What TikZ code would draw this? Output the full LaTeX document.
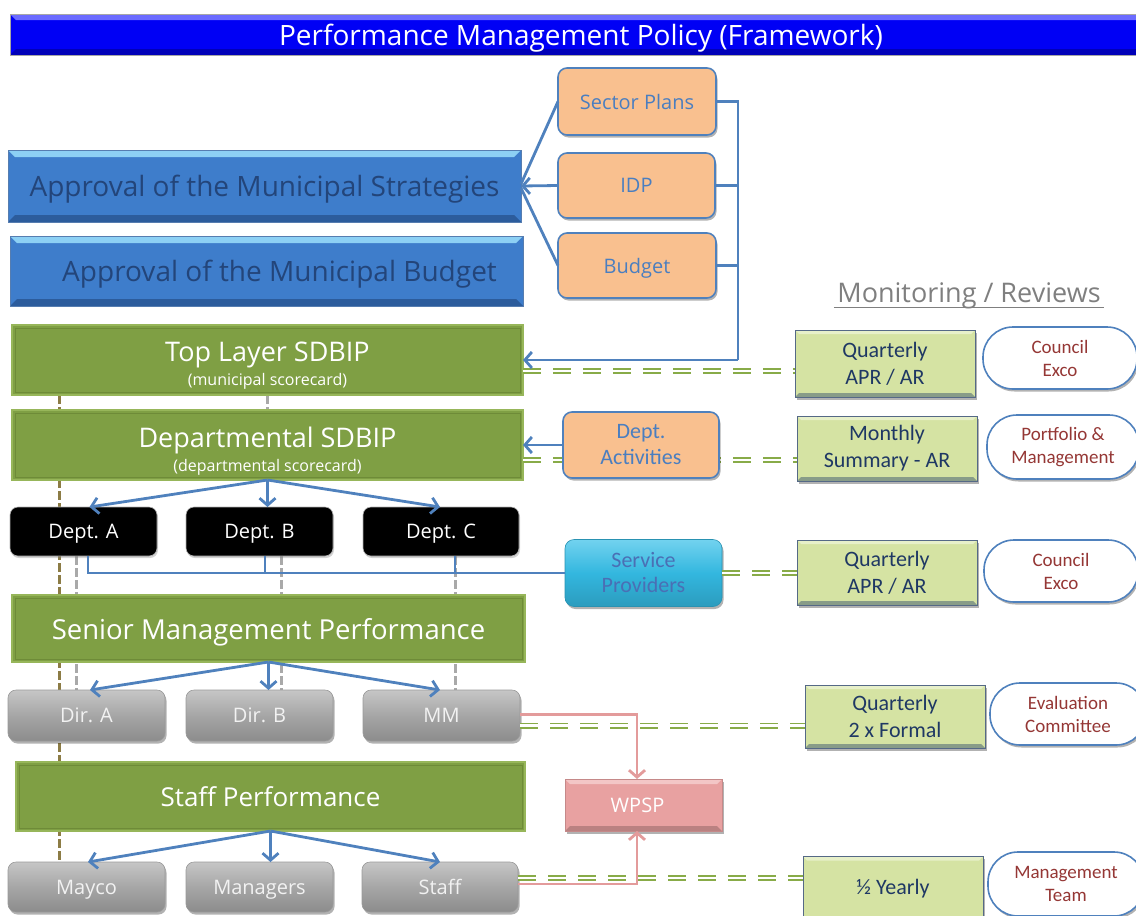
\documentclass[tikz,border=0pt]{standalone}
\usepackage{fontspec}
\setmainfont{Open Sans}
\newfontfamily\calfont{Carlito}
\usetikzlibrary{arrows.meta,shadows,calc}

\definecolor{titleblue}{HTML}{0000F5}
\definecolor{titlelight}{HTML}{6B6BFF}
\definecolor{titledark}{HTML}{0000B8}
\definecolor{apfill}{HTML}{3E7DCB}
\definecolor{aplight}{HTML}{8DD0F4}
\definecolor{apdark}{HTML}{2C5C9C}
\definecolor{aptext}{HTML}{23457A}
\definecolor{orfill}{HTML}{F9C08F}
\definecolor{orborder}{HTML}{4F81BD}
\definecolor{ortext}{HTML}{4A7EC0}
\definecolor{grfill}{HTML}{7F9F44}
\definecolor{grborder}{HTML}{97B65A}
\definecolor{grline}{HTML}{6E8B38}
\definecolor{gyfill}{HTML}{A6A6A6}
\definecolor{gylight}{HTML}{C6C6C6}
\definecolor{gydark}{HTML}{8C8C8C}
\definecolor{cyfill}{HTML}{33B7DF}
\definecolor{cylight}{HTML}{72D2EF}
\definecolor{cytext}{HTML}{4A6FB5}
\definecolor{pkfill}{HTML}{E8A1A1}
\definecolor{pklight}{HTML}{F3C6C6}
\definecolor{pkline}{HTML}{E39B9B}
\definecolor{lgfill}{HTML}{D5E3A3}
\definecolor{lglight}{HTML}{E7F0C9}
\definecolor{lgdark}{HTML}{2B4468}
\definecolor{lgtext}{HTML}{1F3864}
\definecolor{wtborder}{HTML}{4F81BD}
\definecolor{wttext}{HTML}{953735}
\definecolor{conblue}{HTML}{4F81BD}
\definecolor{dashgreen}{HTML}{88AB48}
\definecolor{olive}{HTML}{8C7C45}
\definecolor{dashgray}{HTML}{A9A9A9}
\definecolor{monigray}{HTML}{7F7F7F}

\newcommand\fsz[2]{\fontsize{#1}{#2}\selectfont}
% two-line scorecard title with a small subtitle, set a little below the middle
\newcommand\scoretitle[2]{\raisebox{0pt}[\dimexpr\height+12pt\relax][\depth]{%
  \begin{tabular}{@{}c@{}}\fsz{27}{30}#1\\[8pt]\fsz{16}{18}#2\end{tabular}}}

\pgfdeclarelayer{guides}
\pgfsetlayers{guides,main}

\tikzset{
  sz/.style 2 args={minimum width=#1pt, minimum height=#2pt},
  base/.style={inner sep=0pt, outer sep=0pt, align=center},
  oneline/.style={text depth=0pt},
  % bevelled top and bottom bands drawn inside a box
  bev/.style n args={3}{path picture={
    \fill[#1] (path picture bounding box.north west) -- (path picture bounding box.north east)
      -- ([shift={(-#3pt,-#3pt)}]path picture bounding box.north east)
      -- ([shift={(#3pt,-#3pt)}]path picture bounding box.north west) -- cycle;
    \fill[#2] (path picture bounding box.south west) -- (path picture bounding box.south east)
      -- ([shift={(-#3pt,#3pt)}]path picture bounding box.south east)
      -- ([shift={(#3pt,#3pt)}]path picture bounding box.south west) -- cycle;}},
  softshadow/.style={drop shadow={shadow xshift=1.5pt, shadow yshift=-2.5pt, opacity=0.3, fill=black}},
  titlebar/.style={base, fill=titleblue, draw=gray!70, line width=0.8pt,
    bev={titlelight}{titledark}{6}, text=white},
  apbox/.style={base, fill=apfill, draw=apdark!80, line width=0.8pt,
    bev={aplight}{apdark}{7}, text=aptext},
  orbox/.style={base, fill=orfill, draw=orborder, line width=1.6pt, rounded corners=9pt,
    text=ortext, softshadow},
  grbox/.style={base, fill=grfill, draw=grborder, line width=2.5pt, text=white,
    path picture={\draw[grline, line width=0.8pt]
      ([shift={(3pt,-3pt)}]path picture bounding box.north west) rectangle
      ([shift={(-3pt,3pt)}]path picture bounding box.south east);}},
  dkbox/.style={base, oneline, fill=black, draw=gray!60, line width=0.6pt, rounded corners=8pt,
    text=white, font=\fsz{20}{24},
    drop shadow={shadow xshift=1pt, shadow yshift=-2pt, opacity=0.35, fill=gray}},
  gybox/.style={base, oneline, top color=gylight, bottom color=gydark, middle color=gyfill,
    draw=gray!80, line width=0.6pt, rounded corners=8pt, text=white!95!black,
    font=\fsz{20}{24}, softshadow},
  cybox/.style={base, top color=cylight, bottom color=cyfill!85!black, middle color=cyfill,
    draw=cyfill!80!black, line width=0.6pt, rounded corners=9pt, text=cytext, softshadow},
  pkbox/.style={base, oneline, fill=pkfill, draw=pkfill!85!black, line width=0.6pt,
    bev={pklight}{pkfill!80!black}{5}, text=white, softshadow},
  lgbox/.style={base, fill=lgfill, draw=lgdark!80, line width=0.8pt,
    bev={lglight}{lgdark!45!lgfill}{4}, text=lgtext, font=\calfont\fsz{22}{27}, softshadow},
  wtbox/.style={base, fill=white, draw=wtborder, line width=1.6pt, rounded corners=30pt,
    text=wttext, font=\calfont\fsz{19}{23}, softshadow},
  bl/.style={draw=conblue, line width=2.8pt},
  blarrow/.style={bl, -{Straight Barb[length=7pt, width=16pt, line width=2.8pt]}},
  pk/.style={draw=pkline, line width=2.8pt},
  pkarrow/.style={pk, -{Straight Barb[length=7pt, width=16pt, line width=2.8pt]}},
  gd/.style={draw=dashgreen, line width=1.8pt, double=white, double distance=2.4pt,
    dash pattern=on 18pt off 12pt},
  oldash/.style={draw=olive, line width=3pt, dash pattern=on 9pt off 3pt},
  gydash/.style={draw=dashgray, line width=3pt, dash pattern=on 9pt off 3pt},
}

\begin{document}
\begin{tikzpicture}[x=1pt, y=-1pt]
\path[use as bounding box] (0,0) rectangle (1136,916);

% ---------- title ----------
\node[titlebar, oneline, sz={1142}{41}] (title) at (581,34.5)
  {\fsz{28}{32}Performance Management Policy (Framework)};

% ---------- strategic inputs ----------
\node[apbox, oneline, sz={513}{72}] (strat) at (264.5,186)
  {\fsz{28}{33}Approval of the Municipal Strategies};
\node[apbox, oneline, sz={513}{70}] (apbud) at (266.5,271)
  {\fsz{28}{33}\hspace*{26pt}Approval of the Municipal Budget};

\node[orbox, oneline, sz={158}{67}] (sector) at (637,101.5) {\fsz{20}{24}Sector Plans};
\node[orbox, oneline, sz={157}{65}] (idp) at (636.5,185.5) {\fsz{20}{24}IDP};
\node[orbox, oneline, sz={158}{65}] (budget) at (637,265.5) {\fsz{20}{24}Budget};

\node[text=monigray] (monit) at (969,296) {\fsz{27}{30}Monitoring / Reviews};
\draw[monigray, line width=1.6pt] ([yshift=-5pt]monit.base west) -- ([yshift=-5pt]monit.base east);

% ---------- scorecards ----------
\node[grbox, sz={511}{70}] (topl) at (267.5,360)
  {\scoretitle{Top Layer SDBIP}{(municipal scorecard)}};
\node[grbox, sz={511}{70}] (dept) at (267.5,445)
  {\scoretitle{Departmental SDBIP}{(departmental scorecard)}};

\node[dkbox, sz={147}{49}] (dA) at (83.5,531.5) {Dept. A};
\node[dkbox, sz={147}{49}] (dB) at (259.5,531.5) {Dept. B};
\node[dkbox, sz={156}{49}] (dC) at (441,531.5) {Dept. C};

\node[grbox, oneline, sz={513}{67}] (senior) at (268.5,628.5)
  {\fsz{27.5}{30}Senior Management Performance};

\node[gybox, sz={157}{51}] (dirA) at (86.5,715.5) {Dir. A};
\node[gybox, sz={147}{51}] (dirB) at (259.5,715.5) {Dir. B};
\node[gybox, sz={157}{51}] (mm) at (441.5,715.5) {MM};

\node[grbox, oneline, sz={509}{69}] (staffp) at (270.5,796.5)
  {\fsz{26}{30}Staff Performance};

\node[gybox, sz={157}{50}] (mayco) at (86.5,887) {Mayco};
\node[gybox, sz={147}{50}] (managers) at (259.5,887) {Managers};
\node[gybox, sz={156}{50}] (staff) at (440,887) {Staff};

% ---------- vertical dashed guides, behind the boxes ----------
\begin{pgfonlayer}{guides}
  \coordinate (ol) at ([xshift=-208.5pt]topl.south);
  \draw[oldash] (ol) -- (ol |- mayco.north);
  \draw[gydash] (topl.south) -- (dept.north);
  \coordinate (ga) at ([xshift=-7.5pt]dA.south);
  \coordinate (gb) at ([xshift=21.5pt]dB.south);
  \coordinate (gc) at ([xshift=14pt]dC.south);
  \draw[gydash] (ga) -- (ga |- dirA.north);
  \draw[gydash] (gb) -- (gb |- dirB.north);
  \draw[gydash] (gc) -- (gc |- mm.north);
\end{pgfonlayer}

% ---------- monitoring boxes ----------
\node[lgbox, sz={180}{67}] (q1) at (885,363.5) {Quarterly\\APR / AR};
\node[lgbox, sz={180}{65}] (mon) at (887,448.5) {Monthly\\Summary - AR};
\node[lgbox, sz={180}{65}] (q2) at (887,572.5) {Quarterly\\APR / AR};
\node[lgbox, sz={180}{63}] (q3) at (895,716.5) {Quarterly\\2 x Formal};
\node[lgbox, sz={180}{65}] (half) at (893,889) {\raisebox{-3pt}{½ Yearly}};

\node[wtbox, sz={154}{62}] (c1) at (1060,358) {Council\\Exco};
\node[wtbox, sz={152}{64}] (pm) at (1063,447) {Portfolio \& \\Management};
\node[wtbox, sz={154}{62}] (c2) at (1061,571) {Council\\Exco};
\node[wtbox, sz={156}{62}] (ev) at (1068,714) {Evaluation\\Committee};
\node[wtbox, sz={156}{64}] (mt) at (1066,884) {Management\\Team};

% ---------- links to the monitoring boxes ----------
\coordinate (g1) at ([yshift=-11pt]topl.east);
\draw[gd] (g1) -- (g1 -| q1.west);
\coordinate (g2) at ([yshift=-15pt]dept.east);
\draw[gd] (g2) -- (g2 -| mon.west);

\node[orbox, sz={156}{66}, font=\calfont\fsz{22}{26}] (deptact) at (641,445)
  {Dept.\\Activities};
\node[cybox, sz={157}{67}, font=\calfont\fsz{22}{25}] (serv) at (643.5,573)
  {Service\\Providers};
\node[pkbox, sz={157}{52}] (wpsp) at (643.5,805) {\fsz{20}{24}\hspace*{-12pt}WPSP};

\draw[gd] (serv.east) -- (serv.east -| q2.west);
\coordinate (g4) at ([yshift=-10pt]mm.east);
\coordinate (g5) at ([yshift=9pt]staff.east);

% ---------- arrows into the strategies ----------
\draw[bl] (sector.west) -- ([yshift=2pt]strat.east);
\draw[bl] (budget.west) -- ([yshift=-2pt]strat.east);
\draw[blarrow] (idp.west) -- (strat.east);

% bus from the inputs down to the top layer
\coordinate (bus) at (738,360);
\draw[bl] (sector.east) -| (bus);
\draw[bl] (idp.east) -- (idp.east -| bus);
\draw[bl] (budget.east) -- (budget.east -| bus);
\draw[blarrow] (bus) -- (topl.east);

\draw[blarrow] (deptact.west) -- (deptact.west -| dept.east);

% ---------- cascades ----------
\draw[blarrow] (dept.south) -- ([xshift=6pt]dA.north);
\draw[blarrow] (dept.south) -- (dept.south |- dB.north);
\draw[blarrow] (dept.south) -- ([xshift=-1pt]dC.north);

\coordinate (sa) at ([xshift=4.5pt]dA.south);
\coordinate (sb) at ([xshift=5.5pt]dB.south);
\coordinate (sc) at ([xshift=14pt]dC.south);
\draw[bl] (sa) |- (serv.west);
\draw[bl] (sb) -- (sb |- serv.west);
\draw[bl] (sc) -- (sc |- serv.west);

\draw[blarrow] (senior.south) -- ([xshift=3.5pt]dirA.north);
\draw[blarrow] (senior.south) -- (senior.south |- dirB.north);
\draw[blarrow] (senior.south) -- ([xshift=-1.5pt]mm.north);

\draw[blarrow] (staffp.south) -- ([xshift=1.5pt]mayco.north);
\draw[blarrow] (staffp.south) -- (staffp.south |- managers.north);
\draw[blarrow] (staffp.south) -- (staff.north);

% ---------- WPSP feeds ----------
\coordinate (wp) at ([xshift=-6.5pt]wpsp.north);
\coordinate (ws) at ([xshift=-6.5pt]wpsp.south);
\coordinate (pm1) at ([yshift=1pt]mm.east);
\coordinate (ps1) at ([yshift=3pt]staff.east);
\draw[pkarrow] (pm1) -| (wp);
\draw[pkarrow] (ps1) -| (ws);

\draw[gd] (g4) -- (g4 -| q3.west);
\draw[gd] (g5) -- (g5 -| half.west);

\end{tikzpicture}
\end{document}
